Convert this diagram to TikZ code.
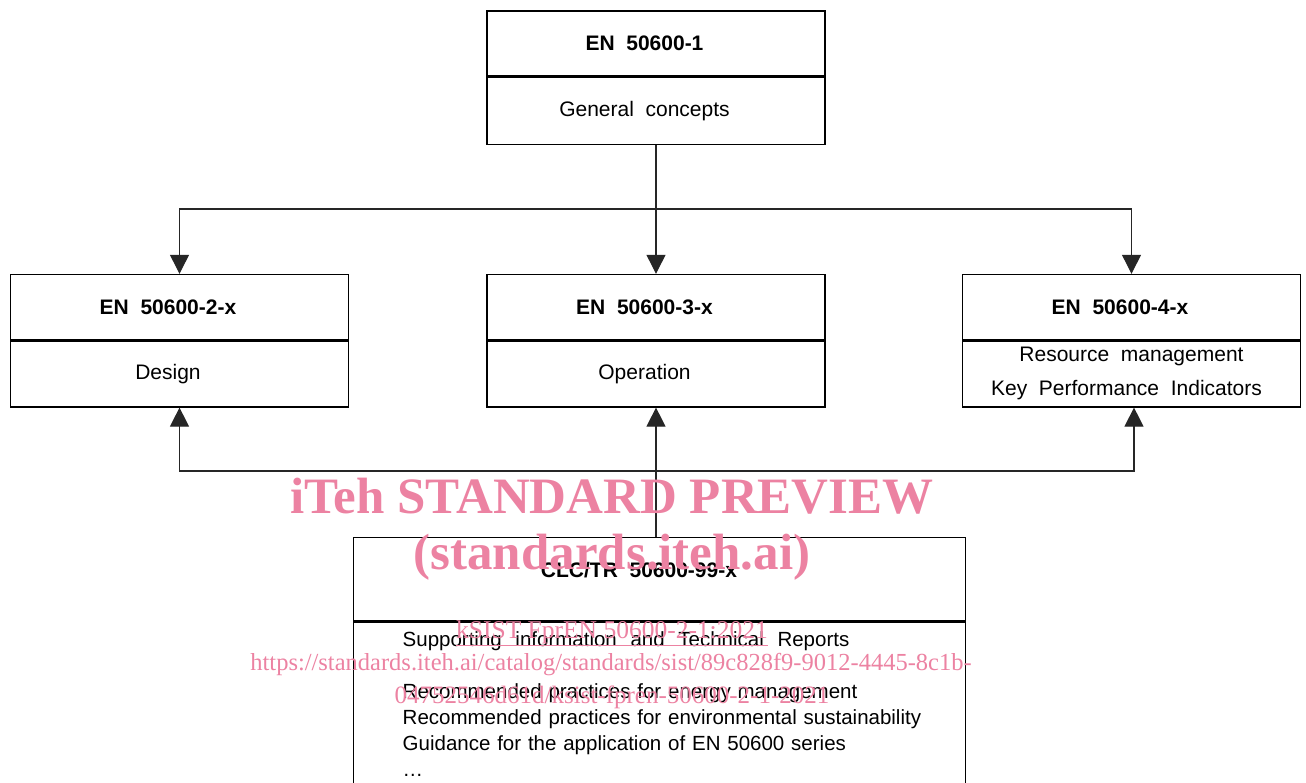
\documentclass[tikz,border=0pt]{standalone}
\usepackage{fontspec}
\setmainfont{Liberation Sans}
\newfontfamily\wmfont{Liberation Serif}
\usetikzlibrary{positioning,arrows.meta}
\definecolor{wmpink}{RGB}{236,130,162}
\begin{document}
\begin{tikzpicture}[x=1pt,y=-1pt]
       \tikzstyle{padtext}=[execute at end node={\hspace*{23pt}}]
       \tikzstyle{headnode}=[draw, line width=1.4pt, minimum width=338pt, minimum height=65pt, inner sep=0pt, font=\fontsize{21}{24}\selectfont\bfseries, padtext]
       \tikzstyle{bodybox}=[draw, line width=1.4pt, minimum width=338pt, minimum height=66pt, inner sep=0pt, align=center, font=\fontsize{21}{24}\selectfont]
       \tikzstyle{bodynode}=[bodybox, padtext]
       \tikzstyle{link}=[draw, black!85, line width=1.2pt, -{Triangle[length=19pt,width=19pt]}]
       \tikzstyle{watermark}=[text=wmpink, inner sep=0pt]
       \useasboundingbox (0,0) rectangle (1306,782);
       % part 1
       \node[headnode] (en1) at (656,43.5) {EN\ \ 50600-1};
       \node[bodynode, below=0pt of en1, minimum height=67pt] (en1b) {General\ \ concepts};
       % parts 2, 3 and 4
       \node[headnode] (en2) at (179.5,307) {EN\ \ 50600-2-x};
       \node[bodynode, below=0pt of en2] (en2b) {Design};
       \node[headnode] (en3) at (656,307) {EN\ \ 50600-3-x};
       \node[bodynode, below=0pt of en3] (en3b) {Operation};
       \node[headnode] (en4) at (1131.5,307) {EN\ \ 50600-4-x};
       \node[bodybox, below=0pt of en4, font=\fontsize{21}{34}\selectfont] (en4b) {Resource\ \ management\\\hspace*{-10pt}Key\ \ Performance\ \ Indicators};
       % technical reports
       \node[draw, line width=1.4pt, minimum width=612pt, minimum height=83pt, anchor=north west] (tr99) at (353,537) {};
       \node[font=\fontsize{21}{24}\selectfont\bfseries] (tr99t) at (639,570) {CLC/TR\ \ 50600-99-x};
       \node[draw, line width=1.4pt, below=0pt of tr99, text width=514pt, inner xsep=49pt, inner ysep=10pt, align=left, font=\fontsize{20.5}{26}\selectfont] (tr99b) {Supporting\ \ information\ \ and\ \ Technical\ \ Reports\\[26pt]
        Recommended practices for energy management\\
        \mbox{Recommended practices for environmental sustainability}\\
        Guidance for the application of EN 50600 series\\
        \dots};
       % connectors
       \coordinate (split) at (656,209);
       \coordinate (join) at (656,471);
       \draw[link] (en1b.south) -- (en3.north);
       \draw[link] (split) -| (en2.north);
       \draw[link] (split) -| (en4.north);
       \draw[link] (tr99.north -| en3b.south) -- (en3b.south);
       \draw[link] (join) -| (en2b.south);
       \draw[link] (join) -| ([xshift=2.5pt]en4b.south);
       % watermark
       \node[watermark, font=\wmfont\bfseries\fontsize{51}{56}\selectfont] (wm1) at (612,496) {iTeh STANDARD PREVIEW};
       \node[watermark, font=\wmfont\bfseries\fontsize{51}{56}\selectfont] (wm2) at (612,557) {(standards.iteh.ai)};
       \node[watermark, font=\wmfont\fontsize{25.5}{28}\selectfont] (wm3) at (612,633) {\underline{kSIST FprEN 50600-2-1:2021}};
       \node[watermark, font=\wmfont\fontsize{24.5}{28}\selectfont] (wm4) at (611,665) {https://standards.iteh.ai/catalog/standards/sist/89c828f9-9012-4445-8c1b-};
       \node[watermark, font=\wmfont\fontsize{25}{28}\selectfont] (wm5) at (612,697) {04752546d61d/ksist-fpren-50600-2-1-2021};
\end{tikzpicture}
\end{document}
